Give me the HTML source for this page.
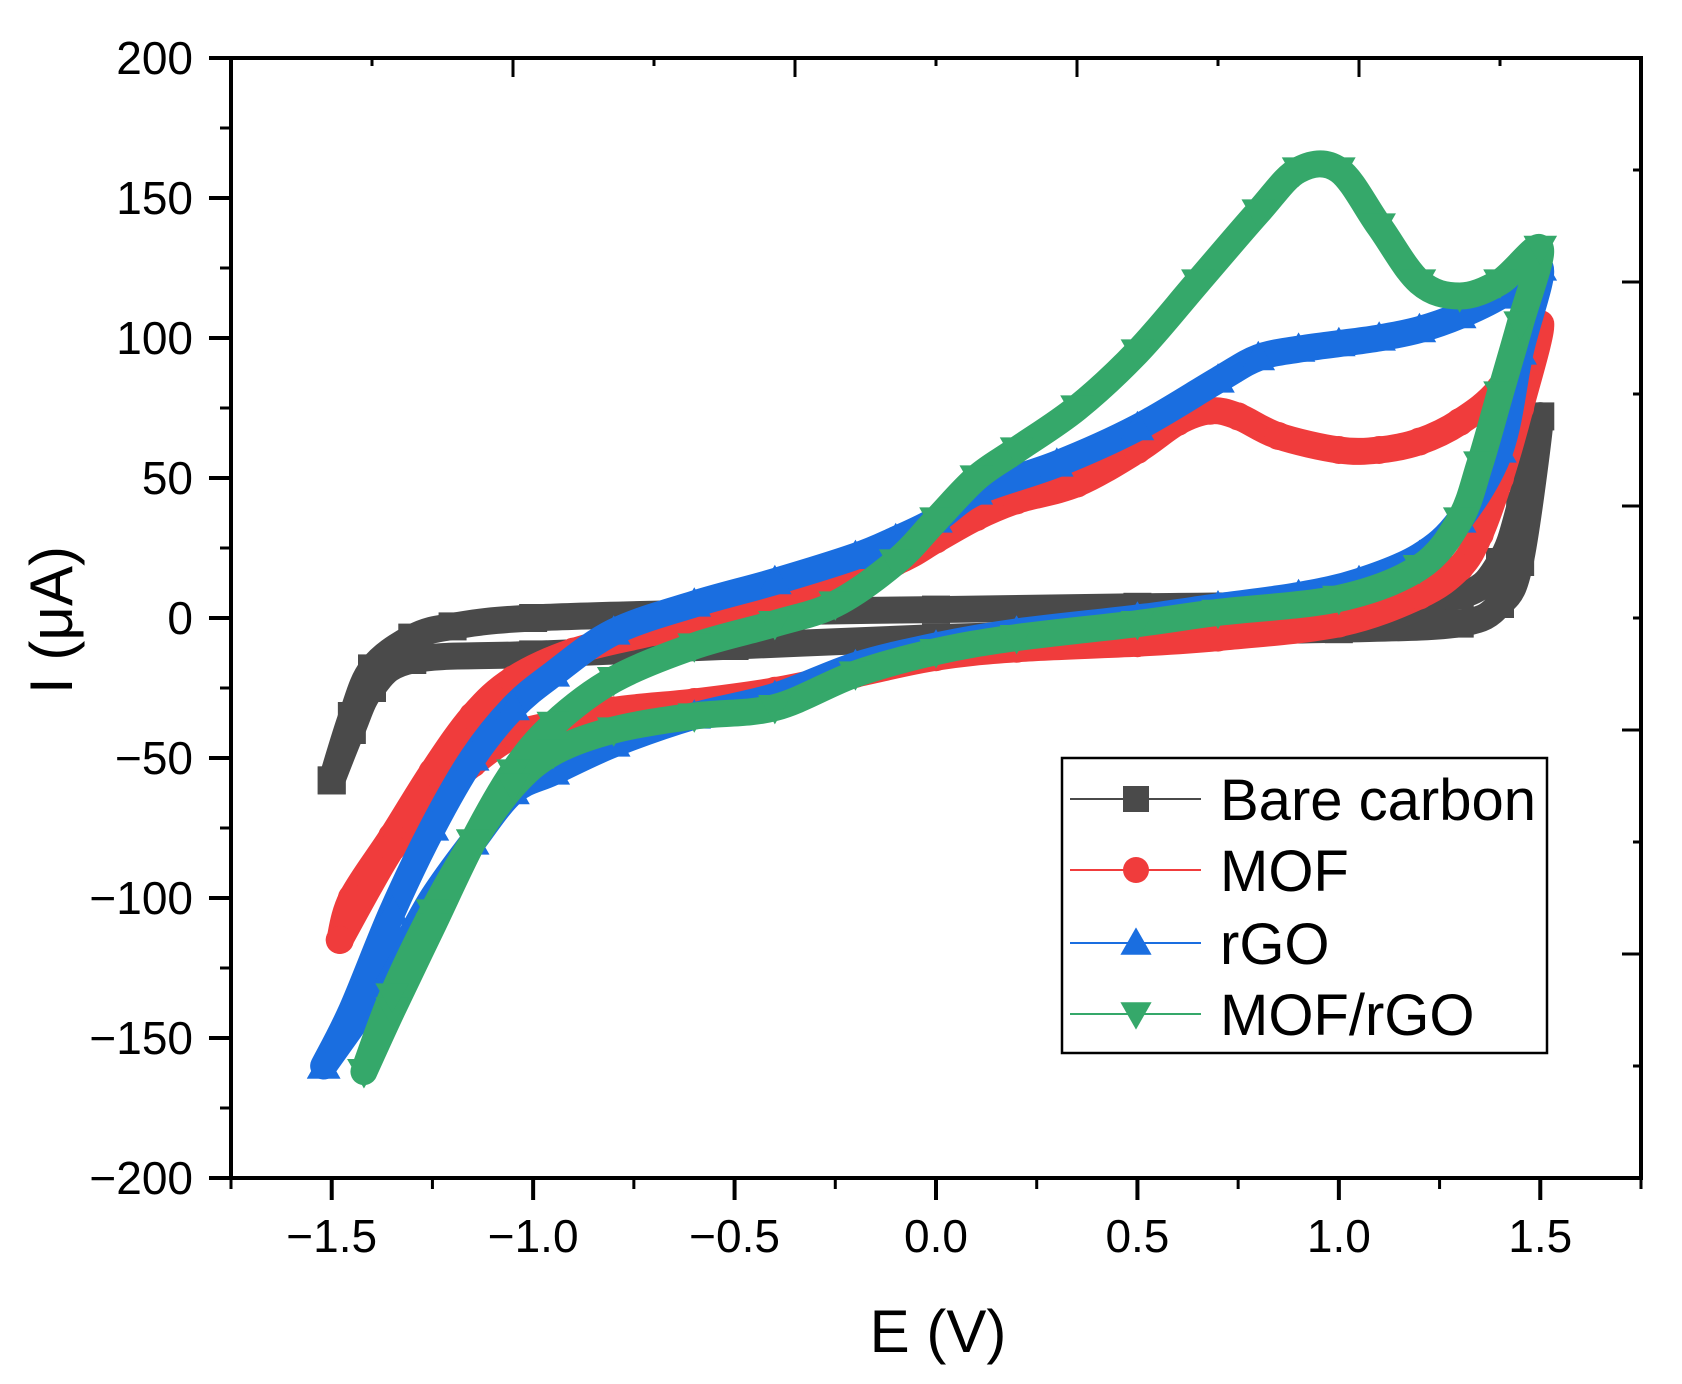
<!DOCTYPE html>
<html><head><meta charset="utf-8"><style>
html,body{margin:0;padding:0;background:#fff;}
svg{display:block;font-family:"Liberation Sans",Arial,sans-serif;}
</style></head><body>
<svg id="chart" width="1682" height="1384" viewBox="0 0 1682 1384">
<g id="series"></g>
<g id="axes"></g>
<g id="legend">
<rect x="1062" y="758" width="485" height="295" fill="#fff" stroke="#000" stroke-width="2.5"/>
</g>
<text x="938" y="1352" font-size="60" text-anchor="middle">E (V)</text>
<text transform="translate(72,620) rotate(-90)" font-size="60" text-anchor="middle">I (μA)</text>
</svg>
<script>
const xTicks=[-1.5,-1.0,-0.5,0.0,0.5,1.0,1.5];
const xTickLabels=["\u22121.5","\u22121.0","\u22120.5","0.0","0.5","1.0","1.5"];
const yTicks=[-200,-150,-100,-50,0,50,100,150,200];
const yTickLabels=["\u2212200","\u2212150","\u2212100","\u221250","0","50","100","150","200"];
const seriesNames=["Bare carbon","MOF","rGO","MOF/rGO"];
const bareE=[-1.5,-1.45,-1.4,-1.3,-1.2,-1.0,-0.5,0,0.5,1.0,1.3,1.4,1.45,1.5,1.45,1.4,1.3,1.0,0.5,0,-0.5,-1.0,-1.3,-1.4,-1.45,-1.5];
const bareI=[-58,-35,-18,-7,-3,0,2,3,4,5,8,20,40,72,20,5,-2,-4,-5,-7,-10,-13,-15,-25,-40,-58];
const mofE=[-1.48,-1.45,-1.35,-1.25,-1.15,-1.05,-0.9,-0.7,-0.5,-0.3,-0.1,0,0.1,0.2,0.35,0.5,0.6,0.68,0.75,0.85,1.0,1.1,1.2,1.3,1.4,1.5,1.45,1.4,1.35,1.3,1.2,1.0,0.7,0.5,0.2,0,-0.2,-0.4,-0.6,-0.8,-0.95,-1.05,-1.15,-1.25,-1.35,-1.48];
const mofI=[-115,-100,-78,-55,-35,-22,-12,-5,2,10,20,28,36,42,48,60,70,74,72,65,60,60,63,70,82,105,75,50,30,18,8,-2,-7,-9,-11,-14,-20,-26,-30,-33,-38,-42,-52,-65,-82,-115];
const rgoE=[-1.52,-1.45,-1.35,-1.25,-1.15,-1.05,-0.95,-0.8,-0.6,-0.4,-0.2,-0.1,0,0.1,0.3,0.5,0.7,0.8,0.9,1.0,1.1,1.2,1.3,1.4,1.5,1.45,1.4,1.3,1.2,1.05,0.9,0.7,0.5,0.2,0,-0.2,-0.4,-0.6,-0.8,-0.95,-1.05,-1.15,-1.25,-1.35,-1.52];
const rgoI=[-160,-140,-105,-75,-50,-32,-20,-5,5,13,22,28,35,45,55,68,85,93,96,98,100,103,108,115,125,95,60,35,22,13,8,4,0,-5,-10,-17,-28,-35,-45,-55,-62,-80,-100,-125,-160];
const mrE=[-1.42,-1.35,-1.25,-1.15,-1.05,-0.95,-0.8,-0.6,-0.4,-0.25,-0.1,0,0.1,0.2,0.35,0.5,0.65,0.8,0.9,1.0,1.1,1.2,1.3,1.4,1.5,1.45,1.4,1.35,1.3,1.2,1.0,0.7,0.5,0.2,0,-0.2,-0.4,-0.6,-0.8,-0.95,-1.05,-1.15,-1.25,-1.35,-1.42];
const mrI=[-162,-140,-110,-80,-55,-38,-22,-10,-2,5,20,35,50,60,75,95,120,145,160,160,140,120,115,120,132,105,80,55,35,18,7,2,-2,-7,-12,-20,-32,-35,-40,-48,-60,-80,-105,-135,-162];

const L=231,R=1641,T=58,B=1178,XMIN=-1.75,XMAX=1.75,YMIN=-200,YMAX=200;
const sx=v=>L+(v-XMIN)/(XMAX-XMIN)*(R-L);
const sy=v=>B-(v-YMIN)/(YMAX-YMIN)*(B-T);
const NS='http://www.w3.org/2000/svg';
function mk(tag,attrs,parent){const e=document.createElementNS(NS,tag);for(const k in attrs)e.setAttribute(k,attrs[k]);parent.appendChild(e);return e;}
const axes=document.getElementById('axes'),series=document.getElementById('series'),legend=document.getElementById('legend');

function smoothPath(pts){let d='M'+pts[0][0]+','+pts[0][1];
 for(let i=0;i<pts.length-1;i++){const p0=pts[Math.max(0,i-1)],p1=pts[i],p2=pts[i+1],p3=pts[Math.min(pts.length-1,i+2)];
 const c1x=p1[0]+(p2[0]-p0[0])/6,c1y=p1[1]+(p2[1]-p0[1])/6,c2x=p2[0]-(p3[0]-p1[0])/6,c2y=p2[1]-(p3[1]-p1[1])/6;
 d+=' C'+c1x+','+c1y+' '+c2x+','+c2y+' '+p2[0]+','+p2[1];}return d;}
function marker(shape,x,y,s,color,parent){
 if(shape==='square')return mk('rect',{x:x-s/2,y:y-s/2,width:s,height:s,fill:color},parent);
 if(shape==='circle')return mk('circle',{cx:x,cy:y,r:s/2,fill:color},parent);
 if(shape==='up')return mk('polygon',{points:`${x},${y-s*0.6} ${x-s*0.6},${y+s*0.45} ${x+s*0.6},${y+s*0.45}`,fill:color},parent);
 return mk('polygon',{points:`${x},${y+s*0.6} ${x-s*0.6},${y-s*0.45} ${x+s*0.6},${y-s*0.45}`,fill:color},parent);}

const defs=[[bareE,bareI,'#4a4a4a','square','bare-carbon'],[mofE,mofI,'#f03c3c','circle','mof'],[rgoE,rgoI,'#1a6ee0','up','rgo'],[mrE,mrI,'#35a86a','down','mof-rgo']];
defs.forEach((s,si)=>{
 const g=mk('g',{},series);
 
 
 const pts=s[0].map((e,i)=>[sx(e),sy(s[1][i])]);
 const p=mk('path',{d:smoothPath(pts),fill:'none',stroke:s[2],'stroke-width':27,'stroke-linejoin':'round','stroke-linecap':'round'},g);
 
 
 pts.forEach(q=>{const m=marker(s[3],q[0],q[1],28,s[2],g);
  
  });
 const ly=[799,870,943,1014][si];
 const lg=mk('g',{},legend);
 
 
 mk('line',{x1:1070,x2:1201,y1:ly,y2:ly,stroke:s[2],'stroke-width':2},lg);
 marker(s[3],1136,ly,26,s[2],lg);
 const t=mk('text',{x:1220,y:ly+21,'font-size':58,fill:'#000'},lg);t.textContent=seriesNames[si];
});

const fr=mk('rect',{x:L,y:T,width:R-L,height:B-T,fill:'none',stroke:'#000','stroke-width':4},axes);


xTicks.forEach((v,i)=>{const x=sx(v);
 mk('line',{x1:x,x2:x,y1:B,y2:B+22,stroke:'#000','stroke-width':4},axes);
 const t=mk('text',{x:x,y:1252,'font-size':46,'text-anchor':'middle'},axes);t.textContent=xTickLabels[i];
 
 
 if(i<xTicks.length-1){const xm=sx(v+0.25);mk('line',{x1:xm,x2:xm,y1:B,y2:B+11,stroke:'#000','stroke-width':3},axes);}
});
mk('line',{x1:sx(-1.75),x2:sx(-1.75),y1:B,y2:B+11,stroke:'#000','stroke-width':3},axes);
mk('line',{x1:sx(1.75),x2:sx(1.75),y1:B,y2:B+11,stroke:'#000','stroke-width':3},axes);
yTicks.forEach((v,i)=>{const y=sy(v);
 mk('line',{x1:L-22,x2:L,y1:y,y2:y,stroke:'#000','stroke-width':4},axes);
 const t=mk('text',{x:193,y:y+16,'font-size':46,'text-anchor':'end'},axes);t.textContent=yTickLabels[i];
 
 
 if(i<yTicks.length-1){const ym=sy(v+25);mk('line',{x1:L-11,x2:L,y1:ym,y2:ym,stroke:'#000','stroke-width':3},axes);}
});
for(let k=0;k<=10;k++){const x=L+k*(R-L)/10;const len=k%2?8:19;mk('line',{x1:x,x2:x,y1:T,y2:T+len,stroke:'#000','stroke-width':3},axes);
 const y=T+k*(B-T)/10;mk('line',{x1:R-len,x2:R,y1:y,y2:y,stroke:'#000','stroke-width':3},axes);}
</script>
</body></html>
